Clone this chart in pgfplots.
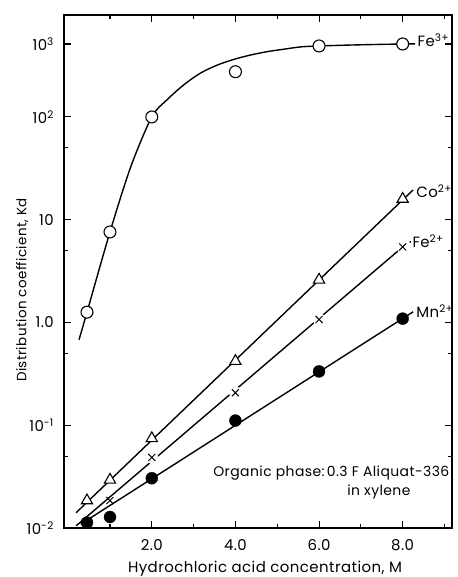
\documentclass[border=0pt]{standalone}
\usepackage{fontspec}
\setmainfont{Poppins}[LetterSpace=3]
\usepackage{pgfplots}
\pgfplotsset{compat=1.18}

\begin{document}
\fontsize{15}{17}\selectfont
\begin{tikzpicture}
\begin{axis}[
  scale only axis,
  width=388bp, height=513bp,
  xmin=-0.1, xmax=9.18,
  ymode=log, ymin=0.01, ymax=982,
  % the top decade (100 to 1000) is drawn shorter in the original figure
  y filter/.code={\edef\yraw{\pgfmathresult}%
    \pgfmathparse{\yraw>4.60517 ? 4.60517+0.71*(\yraw-4.60517) : \yraw}},
  xtick={2,4,6,8}, xticklabels={2.0,4.0,6.0,8.0},
  minor xtick={1,3,5,7,9},
  ytick={0.01,0.1,1,10,100,512.9},
  yticklabels={10\textsuperscript{-2},10\textsuperscript{-1},1.0,10,10\textsuperscript{2},10\textsuperscript{3}},
  minor ytick={0.05,0.5,5,50},
  tick align=inside,
  major tick length=7bp, minor tick length=4bp,
  axis line style={line width=1.3pt},
  every tick/.style={black, line width=1.1pt},
  xticklabel style={yshift=-6bp},
  yticklabel style={xshift=-5bp},
  xlabel={Hydrochloric acid concentration, M},
  ylabel={Distribution coefficient, Kd},
  xlabel style={at={(axis description cs:0.518,-0.08)}, anchor=center},
  ylabel style={at={(axis description cs:-0.108,0.464)}, anchor=center, font=\fontsize{13.5}{15}\selectfont},
  clip=false,
]
\coordinate (o) at (rel axis cs:0,0);

% Fe3+
\addplot[smooth, line width=1.4pt] coordinates {
  (0.26,0.68) (0.45,1.26) (1.0,7.6) (1.5,33) (2.0,100)
  (2.36,171) (2.76,274) (3.16,398) (3.57,515) (3.97,617) (4.37,708)
  (4.77,787) (5.17,850) (5.56,912) (6.0,940) (7.0,975) (8.0,1000) (8.3,1005)
};
\addplot[only marks, mark=*, mark size=6pt, mark options={fill=white, draw=black, line width=1.1pt}]
  coordinates {(0.45,1.26) (1.0,7.6) (2.0,100) (4.0,417) (6.0,940) (8.0,1000)};

% Co2+
\addplot[line width=1.4pt] coordinates {(0.19,0.0141) (8.25,19.5)};
\addplot[only marks, mark=triangle*, mark size=6.5pt, mark options={fill=white, draw=black, line width=1.1pt}]
  coordinates {(0.45,0.0185) (1.0,0.0294) (2.0,0.0745) (4.0,0.42) (6.0,2.6) (8.0,15.9)};

% Fe2+
\addplot[line width=1.4pt] coordinates {(0.19,0.0105) (8.0,5.43)};
\addplot[only marks, white, mark=*, mark size=6pt, mark options={fill=white, draw=white}]
  coordinates {(2.0,0.0486) (4.0,0.207) (6.0,1.07) (8.0,5.43)};
\addplot[only marks, mark=x, mark size=5pt, mark options={black, line width=1pt}]
  coordinates {(1.0,0.0185) (2.0,0.0486) (4.0,0.207) (6.0,1.07) (8.0,5.43)};

% Mn2+
\addplot[line width=1.4pt] coordinates {(0.3,0.0109) (8.25,1.27)};
\addplot[only marks, mark=*, mark size=6pt, mark options={black}]
  coordinates {(0.45,0.0113) (1.0,0.0128) (2.0,0.0305) (4.0,0.111) (6.0,0.334) (8.0,1.09)};

\node[anchor=west, inner sep=1pt] at (axis cs:8.33,560) {Fe\textsuperscript{3+}};
\node[anchor=west, inner sep=1pt] at (axis cs:8.3,19) {Co\textsuperscript{2+}};
\node[anchor=west, inner sep=1pt] at (axis cs:8.12,6.2) {·Fe\textsuperscript{2+}};
\node[anchor=west, inner sep=1pt] at (axis cs:8.3,1.3) {Mn\textsuperscript{2+}};
\node[anchor=east, inner sep=0pt, font=\fontsize{14}{16}\selectfont] at (axis cs:9.12,0.0343) {Organic phase:\,0.3 F Aliquat-336};
\node[anchor=west, inner sep=0pt, font=\fontsize{14}{16}\selectfont] at (axis cs:6.67,0.0226) {in xylene};
\end{axis}
\pgfresetboundingbox
\path[use as bounding box] ([shift={(-64bp,-49bp)}]o) rectangle ++(458bp,577bp);
\end{tikzpicture}
\end{document}
